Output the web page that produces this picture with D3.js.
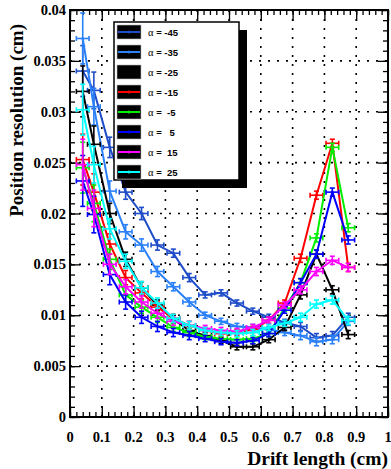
<!DOCTYPE html>
<html>
<head>
<meta charset="utf-8">
<script src="https://cdn.jsdelivr.net/npm/d3@7"></script>
<style>
  body { margin: 0; background: #fff; }
  svg text { font-family: "Liberation Serif", "DejaVu Serif", serif; font-weight: bold; }
</style>
</head>
<body>
<div id="chart"></div>
<script>
// drift length bin centres (cm)
const driftLength = [0.04, 0.075, 0.125, 0.175, 0.225, 0.275, 0.325, 0.375, 0.425,
  0.475, 0.525, 0.575, 0.625, 0.675, 0.725, 0.775, 0.825, 0.875];

// position resolution (cm) for each angle
const resM45 = [0.0340, 0.0321, 0.0265, 0.0221, 0.0200, 0.0169, 0.0161, 0.0137, 0.0120,
  0.0122, 0.0112, 0.0104, 0.0098, 0.0093, 0.0089, 0.0078, 0.0080, 0.0098];
const resM35 = [0.0372, 0.0305, 0.0222, 0.0182, 0.0169, 0.0143, 0.0128, 0.0113, 0.0100,
  0.0094, 0.0089, 0.0088, 0.0086, 0.0083, 0.0080, 0.0074, 0.0076, 0.0094];
const resM25 = [0.0320, 0.0268, 0.0200, 0.0155, 0.0127, 0.0110, 0.0096, 0.0085, 0.0080,
  0.0075, 0.0069, 0.0069, 0.0076, 0.0088, 0.0120, 0.0160, 0.0125, 0.0081];
const resM15 = [0.0253, 0.0221, 0.0170, 0.0137, 0.0122, 0.0108, 0.0097, 0.0090, 0.0085,
  0.0082, 0.0083, 0.0086, 0.0095, 0.0112, 0.0156, 0.0218, 0.0269, 0.0147];
const resM5 = [0.0245, 0.0210, 0.0155, 0.0120, 0.0108, 0.0098, 0.0088, 0.0083, 0.0079,
  0.0077, 0.0076, 0.0077, 0.0082, 0.0107, 0.0132, 0.0176, 0.0265, 0.0186];
const resP5 = [0.0232, 0.0199, 0.0140, 0.0113, 0.0098, 0.0089, 0.0083, 0.0080, 0.0077,
  0.0074, 0.0073, 0.0075, 0.0082, 0.0105, 0.0132, 0.0160, 0.0221, 0.0174];
const resP15 = [0.0248, 0.0205, 0.0150, 0.0128, 0.0113, 0.0102, 0.0094, 0.0090, 0.0087,
  0.0085, 0.0084, 0.0088, 0.0095, 0.0110, 0.0125, 0.0143, 0.0154, 0.0147];
const resP25 = [0.0302, 0.0248, 0.0185, 0.0153, 0.0127, 0.0112, 0.0097, 0.0090, 0.0085,
  0.0083, 0.0082, 0.0083, 0.0088, 0.0092, 0.0098, 0.0111, 0.0115, 0.0095];

// error bars (shared by bin)
const resErr = [0.0025, 0.0018, 0.0010, 0.0007, 0.0006, 0.0005, 0.0004, 0.0004, 0.0003,
  0.0003, 0.0003, 0.0003, 0.0003, 0.0003, 0.0004, 0.0004, 0.0004, 0.0004];
const binHalfWidth = 0.02;

const legendLabels = ["-45", "-35", "-25", "-15", " -5", "  5", " 15", " 25"];
const seriesValues = [resM45, resM35, resM25, resM15, resM5, resP5, resP15, resP25];
const colors = ["#1f4cc8", "#2a80f8", "#000000", "#ff0000", "#00ee00", "#0000ff", "#ff00ff", "#00ffff"];

const xTicks = [0, 0.1, 0.2, 0.3, 0.4, 0.5, 0.6, 0.7, 0.8, 0.9, 1];
const yTicks = [0, 0.005, 0.01, 0.015, 0.02, 0.025, 0.03, 0.035, 0.04];

const W = 391, H = 469;
const margin = { top: 10, right: 3, bottom: 52, left: 70 };
const width = W - margin.left - margin.right;
const height = H - margin.top - margin.bottom;

const svgRoot = d3.select("#chart").append("svg")
  .attr("width", W).attr("height", H);
const svg = svgRoot.append("g")
  .attr("transform", "translate(" + margin.left + "," + margin.top + ")");

const x = d3.scaleLinear().domain([0, 1]).range([0, width]);
const y = d3.scaleLinear().domain([0, 0.04]).range([height, 0]);

svgRoot.append("defs").append("clipPath").attr("id", "clip")
  .append("rect").attr("width", width).attr("height", height);

// dotted grid
svg.append("g").selectAll("line.gx")
  .data(xTicks.slice(1, -1)).enter().append("line")
  .attr("x1", d => x(d)).attr("x2", d => x(d))
  .attr("y1", 0).attr("y2", height)
  .attr("stroke", "#000").attr("stroke-width", 1.6).attr("stroke-dasharray", "2,7");
svg.append("g").selectAll("line.gy")
  .data(yTicks.slice(1, -1)).enter().append("line")
  .attr("y1", d => y(d)).attr("y2", d => y(d))
  .attr("x1", 0).attr("x2", width)
  .attr("stroke", "#000").attr("stroke-width", 1.6).attr("stroke-dasharray", "2,7");

// inward ticks on all four sides
const xMinor = d3.range(0, 1.0001, 0.02);
const yMinor = d3.range(0, 0.04001, 0.001);
const axisStyle = g => {
  g.select(".domain").remove();
  g.selectAll("line").attr("stroke", "#000").attr("stroke-width", 1.3);
};
svg.append("g").attr("transform", "translate(0," + height + ")")
  .call(d3.axisTop(x).tickValues(xMinor).tickSize(5).tickFormat("")).call(axisStyle);
svg.append("g").attr("transform", "translate(0," + height + ")")
  .call(d3.axisTop(x).tickValues(xTicks).tickSize(11).tickFormat("")).call(axisStyle);
svg.append("g")
  .call(d3.axisBottom(x).tickValues(xMinor).tickSize(5).tickFormat("")).call(axisStyle);
svg.append("g")
  .call(d3.axisBottom(x).tickValues(xTicks).tickSize(11).tickFormat("")).call(axisStyle);
svg.append("g")
  .call(d3.axisRight(y).tickValues(yMinor).tickSize(5).tickFormat("")).call(axisStyle);
svg.append("g")
  .call(d3.axisRight(y).tickValues(yTicks).tickSize(10).tickFormat("")).call(axisStyle);
svg.append("g").attr("transform", "translate(" + width + ",0)")
  .call(d3.axisLeft(y).tickValues(yMinor).tickSize(5).tickFormat("")).call(axisStyle);
svg.append("g").attr("transform", "translate(" + width + ",0)")
  .call(d3.axisLeft(y).tickValues(yTicks).tickSize(10).tickFormat("")).call(axisStyle);

// tick labels
svg.append("g").selectAll("text")
  .data(xTicks).enter().append("text")
  .attr("x", d => x(d)).attr("y", height + 25)
  .attr("text-anchor", "middle").attr("font-size", 14.5)
  .text(d => d3.format("~g")(d));
svg.append("g").selectAll("text")
  .data(yTicks).enter().append("text")
  .attr("x", -4).attr("y", d => y(d) + 5)
  .attr("text-anchor", "end").attr("font-size", 14.5)
  .text(d => d3.format("~g")(d));

// axis titles
svg.append("text")
  .attr("x", width).attr("y", height + 48)
  .attr("text-anchor", "end").attr("font-size", 19.5)
  .text("Drift length (cm)");
svg.append("text")
  .attr("transform", "translate(-47,14) rotate(-90)")
  .attr("text-anchor", "end").attr("font-size", 19)
  .text("Position resolution (cm)");

// data series with error bars
const plot = svg.append("g").attr("clip-path", "url(#clip)");
const line = d3.line().x(d => x(d.x)).y(d => y(d.y));
const cap = 2.5;

seriesValues.forEach((vals, si) => {
  const pts = vals.map((v, i) => ({ x: driftLength[i], y: v, e: resErr[i] }));
  const g = plot.append("g").attr("stroke", colors[si]).attr("fill", "none");
  g.append("path").attr("d", line(pts)).attr("stroke-width", 2);
  const eb = g.selectAll("g.eb").data(pts).enter().append("g").attr("stroke-width", 1.6);
  eb.append("line")
    .attr("x1", d => x(d.x - binHalfWidth)).attr("x2", d => x(d.x + binHalfWidth))
    .attr("y1", d => y(d.y)).attr("y2", d => y(d.y));
  eb.append("line")
    .attr("x1", d => x(d.x)).attr("x2", d => x(d.x))
    .attr("y1", d => y(d.y - d.e)).attr("y2", d => y(d.y + d.e));
  [-1, 1].forEach(s => {
    eb.append("line")
      .attr("x1", d => x(d.x + s * binHalfWidth)).attr("x2", d => x(d.x + s * binHalfWidth))
      .attr("y1", d => y(d.y) - cap).attr("y2", d => y(d.y) + cap);
    eb.append("line")
      .attr("x1", d => x(d.x) - cap).attr("x2", d => x(d.x) + cap)
      .attr("y1", d => y(d.y + s * d.e)).attr("y2", d => y(d.y + s * d.e));
  });
  g.selectAll("circle").data(pts).enter().append("circle")
    .attr("cx", d => x(d.x)).attr("cy", d => y(d.y)).attr("r", 1.3)
    .attr("fill", colors[si]).attr("stroke", "none");
});

// frame
svg.append("rect").attr("width", width).attr("height", height)
  .attr("fill", "none").attr("stroke", "#000").attr("stroke-width", 2);

// legend with shadow
const lx = 44, ly = 12, lw = 125, lh = 158;
svg.append("rect").attr("x", lx + 8).attr("y", ly + 8).attr("width", lw).attr("height", lh)
  .attr("fill", "#000");
svg.append("rect").attr("x", lx).attr("y", ly).attr("width", lw).attr("height", lh)
  .attr("fill", "#fff").attr("stroke", "#000").attr("stroke-width", 1.5);

const legend = svg.selectAll(".legend")
  .data(legendLabels).enter().append("g")
  .attr("class", "legend")
  .attr("transform", (d, i) => "translate(" + (lx + 3) + "," + (ly + 10 + i * 20) + ")");
legend.append("rect").attr("x", 0).attr("y", -7).attr("width", 24).attr("height", 14)
  .attr("fill", "#000").attr("stroke", "#bbb").attr("stroke-width", 0.6);
legend.append("line").attr("x1", 1).attr("x2", 23).attr("y1", 0).attr("y2", 0)
  .attr("stroke", (d, i) => colors[i]).attr("stroke-width", 2);
legend.append("circle").attr("cx", 12).attr("cy", 0).attr("r", 1.5)
  .attr("fill", (d, i) => colors[i]);
const lt = legend.append("text").attr("x", 31).attr("y", 3.5)
  .attr("font-size", 9.5).attr("xml:space", "preserve").style("white-space", "pre");
lt.append("tspan").attr("font-weight", "normal").attr("font-size", 10.5).text("\u03b1");
lt.append("tspan").attr("font-family", "Liberation Sans, Arial, sans-serif")
  .text(d => " = " + d);
</script>
</body>
</html>
